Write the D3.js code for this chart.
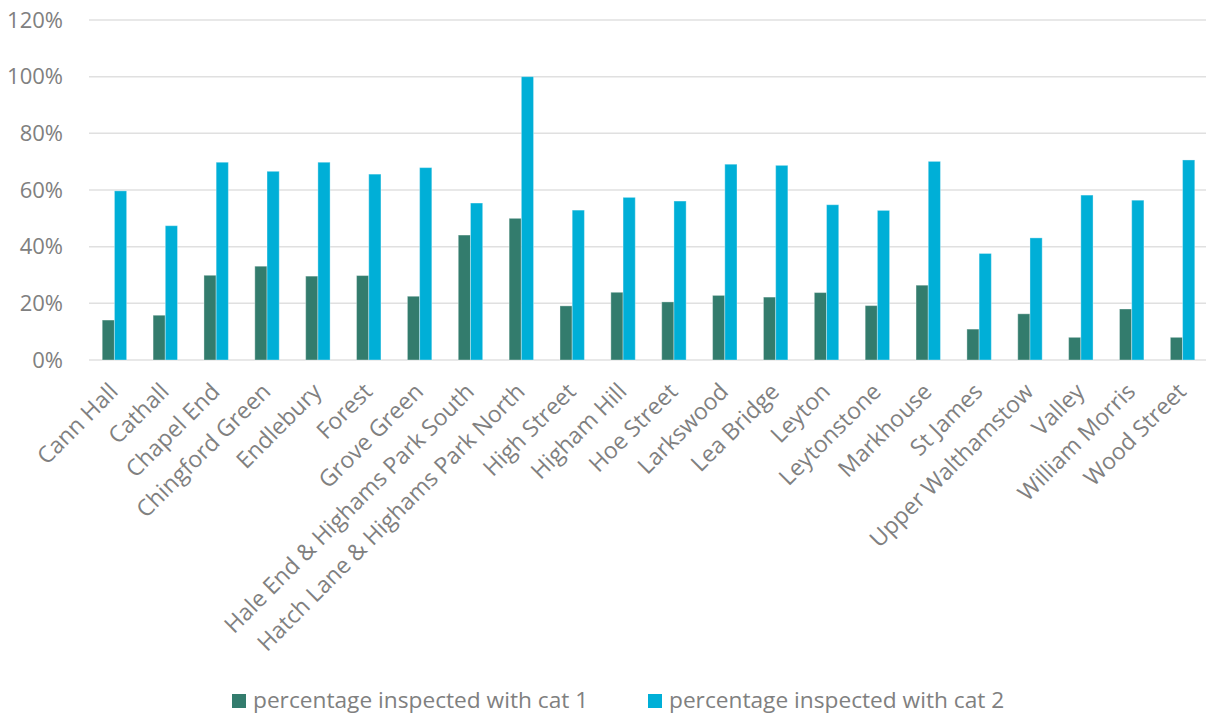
<!DOCTYPE html>
<html>
<head>
<meta charset="utf-8">
<script src="https://cdn.jsdelivr.net/npm/d3@7"></script>
<style>
  html, body { margin: 0; padding: 0; background: #fff; }
  svg { display: block; font-family: "Open Sans", "Noto Sans", sans-serif; }
</style>
</head>
<body>
<svg id="chart" width="1206" height="718"></svg>
<script>
// Wards
const wards = [
  "Cann Hall", "Cathall", "Chapel End", "Chingford Green", "Endlebury", "Forest",
  "Grove Green", "Hale End & Highams Park South", "Hatch Lane & Highams Park North",
  "High Street", "Higham Hill", "Hoe Street", "Larkswood", "Lea Bridge", "Leyton",
  "Leytonstone", "Markhouse", "St James", "Upper Walthamstow", "Valley",
  "William Morris", "Wood Street"
];

// Share of premises inspected, per category (fraction of 1)
const cat1 = [0.141, 0.158, 0.299, 0.331, 0.296, 0.298, 0.225, 0.441, 0.50, 0.191, 0.239,
              0.205, 0.228, 0.222, 0.238, 0.192, 0.264, 0.109, 0.163, 0.080, 0.180, 0.080];
const cat2 = [0.597, 0.474, 0.698, 0.666, 0.698, 0.656, 0.679, 0.554, 1.00, 0.529, 0.574,
              0.561, 0.691, 0.687, 0.548, 0.528, 0.701, 0.376, 0.431, 0.582, 0.564, 0.706];

const seriesNames = ["percentage inspected with cat 1", "percentage inspected with cat 2"];
const seriesColors = ["#337c6d", "#00afd7"];
const yTicks = [0, 0.2, 0.4, 0.6, 0.8, 1.0, 1.2];

const svg = d3.select("#chart");
const plot = { left: 89, right: 1208, top: 20, bottom: 360 };

const x0 = d3.scaleBand()
  .domain(wards)
  .range([plot.left, plot.right])
  .paddingInner(0.52)
  .paddingOuter(0.26);

const x1 = d3.scaleBand()
  .domain([0, 1])
  .range([0, x0.bandwidth()]);

const y = d3.scaleLinear()
  .domain([0, 1.2])
  .range([plot.bottom, plot.top]);

// Horizontal gridlines
svg.append("g")
  .selectAll("line")
  .data(yTicks)
  .join("line")
  .attr("x1", plot.left)
  .attr("x2", 1206)
  .attr("y1", d => y(d))
  .attr("y2", d => y(d))
  .attr("stroke", "#e0e0e0")
  .attr("stroke-width", 1.5);

// Y axis labels
const yAxis = d3.axisLeft(y)
  .tickValues(yTicks)
  .tickFormat(d3.format(".0%"))
  .tickSize(0)
  .tickPadding(0);

svg.append("g")
  .attr("transform", `translate(63,0)`)
  .call(yAxis)
  .call(g => g.select(".domain").remove())
  .call(g => g.selectAll("text")
    .attr("fill", "#808080")
    .attr("font-size", "22px")
    .attr("font-family", "\"Open Sans\", sans-serif"));

// Bars
const groups = svg.append("g")
  .selectAll("g")
  .data(wards.map((w, i) => ({ ward: w, values: [cat1[i], cat2[i]] })))
  .join("g")
  .attr("transform", d => `translate(${x0(d.ward)},0)`);

groups.selectAll("rect")
  .data(d => d.values.map((v, k) => ({ k, v })))
  .join("rect")
  .attr("x", d => x1(d.k))
  .attr("width", x1.bandwidth())
  .attr("y", d => y(d.v))
  .attr("height", d => y(0) - y(d.v))
  .attr("fill", d => seriesColors[d.k])
  .attr("stroke", "#ffffff")
  .attr("stroke-opacity", 0.35)
  .attr("stroke-width", 1);

// Category axis labels, rotated
const xAxis = d3.axisBottom(x0).tickSize(0).tickPadding(0);
svg.append("g")
  .attr("transform", `translate(0,${plot.bottom})`)
  .call(xAxis)
  .call(g => g.select(".domain").remove())
  .call(g => g.selectAll("text")
    .attr("fill", "#808080")
    .attr("font-size", "23px")
    .attr("font-family", "\"Open Sans\", sans-serif")
    .attr("text-anchor", "end")
    .attr("dy", "0")
    .attr("y", 0)
    .attr("transform", "translate(5,33) rotate(-45)"));

// Legend
const legendX = [232, 648];
const legend = svg.append("g")
  .selectAll("g")
  .data(seriesNames)
  .join("g")
  .attr("transform", (d, i) => `translate(${legendX[i]},694)`);

legend.append("rect")
  .attr("width", 14)
  .attr("height", 14)
  .attr("fill", (d, i) => seriesColors[i]);

legend.append("text")
  .attr("x", 21)
  .attr("y", 14)
  .attr("fill", "#808080")
  .attr("font-size", "22.7px")
  .text(d => d);
</script>
</body>
</html>
